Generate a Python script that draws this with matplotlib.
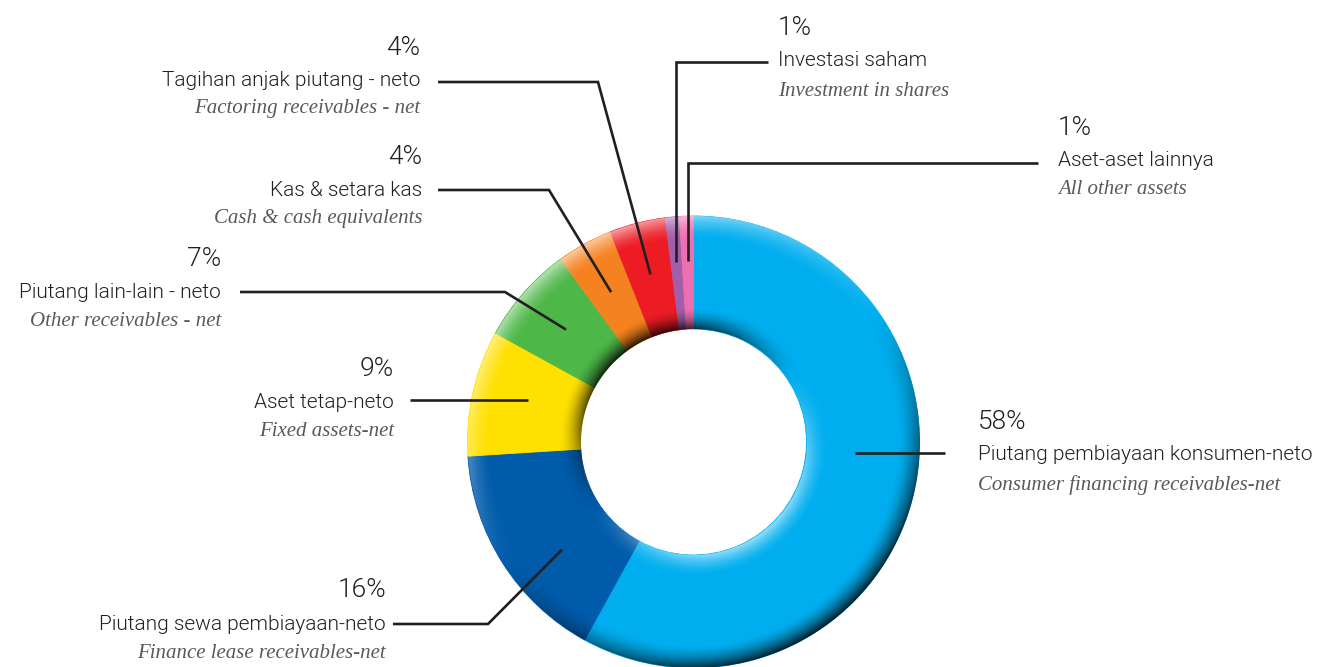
import numpy as np
import matplotlib
matplotlib.use("Agg")
import matplotlib.pyplot as plt

# Asset composition (percent of total assets)
values = [58, 16, 9, 7, 4, 4, 1, 1]
names_id = [
    "Piutang pembiayaan konsumen-neto",
    "Piutang sewa pembiayaan-neto",
    "Aset tetap-neto",
    "Piutang lain-lain - neto",
    "Kas & setara kas",
    "Tagihan anjak piutang - neto",
    "Investasi saham",
    "Aset-aset lainnya",
]
names_en = [
    "Consumer financing receivables-net",
    "Finance lease receivables-net",
    "Fixed assets-net",
    "Other receivables - net",
    "Cash & cash equivalents",
    "Factoring receivables - net",
    "Investment in shares",
    "All other assets",
]
colors = ["#00aeef", "#005baa", "#ffe000", "#4db848",
          "#f58220", "#ed1c24", "#a25ea8", "#ee6fb0"]

W, H = 1326, 667
fig = plt.figure(figsize=(W / 100, H / 100), dpi=100)
ax = fig.add_axes([0, 0, 1, 1])


def py(y):
    """Convert a top-down pixel row into the axes' y coordinate."""
    return H - y


cx, cy = 693.5, py(442)
R, ring = 226, 113
r_in = R - ring

wedges, _ = ax.pie(values, colors=colors, startangle=90, counterclock=False,
                   radius=R, center=(cx, cy), wedgeprops=dict(width=ring))
for w in wedges:
    w.set_edgecolor(w.get_facecolor())
    w.set_linewidth(0.6)

# Bevel shading of the ring (light coming from the upper left)
pad = 3
N = int(2 * (R + pad))
gx = np.linspace(cx - R - pad + 0.5, cx + R + pad - 0.5, N)
gy = np.linspace(cy - R - pad + 0.5, cy + R + pad - 0.5, N)
X, Y = np.meshgrid(gx, gy)
dx, dy = X - cx, Y - cy
r = np.hypot(dx, dy) + 1e-9
ux, uy = dx / r, dy / r
L = np.array([-0.55, 0.83])
L = L / np.linalg.norm(L)
d_out = ux * L[0] + uy * L[1]
wo, wi = 24.0, 22.0
t_out = np.clip((r - (R - wo)) / wo, 0, 1) ** 1.7
t_in = np.clip(((r_in + wi) - r) / wi, 0, 1) ** 1.7
shade = t_out * d_out - t_in * d_out
coverage = np.clip(R - r + 0.5, 0, 1) * np.clip(r - r_in + 0.5, 0, 1)
rgba = np.zeros((N, N, 4))
light = shade > 0
rgba[..., 0:3] = np.where(light, 1.0, 0.0)[..., None]
rgba[..., 3] = np.where(light, shade * 0.6, -shade * 0.85) * coverage
ax.imshow(rgba, extent=(cx - R - pad, cx + R + pad, cy - R - pad, cy + R + pad),
          origin="lower", interpolation="bilinear", zorder=3)

# Label layout: side, text x, rows (pct, name, english), leader spec
ink = "#231f20"
grey = "#58595b"
layout = [
    # side, text_x, y_pct, y_name, y_en, line_start_x, line_y, elbow_x, frac, anchor_r
    ("R", 978, 422, 455, 485, 945, None, None, 0.45, 162),
    ("L", 386, 590, 624, 654, 393, 624, 488, 0.38, 170),
    ("L", 394, 369, 402, 432, 410, None, None, 0.55, 171),
    ("L", 221, 259, 292, 322, 240, 292, 505, 0.5, 170),
    ("L", 422, 157, 190, 219, 438, 190, 549, 0.5, 171),
    ("L", 420, 48, 80, 108, 438, 82, 598, 0.5, 173),
    ("R", 778, 28, 60, 91, 768, 62, "anchor", 0.5, 181),
    ("R", 1058, 128, 161, 190, 1038, 163, "anchor", 0.5, 181),
]

for w, v, nid, nen, spec in zip(wedges, values, names_id, names_en, layout):
    side, tx, y_pct, y_name, y_en, lx, ly, ex, frac, ar = spec
    ang = np.deg2rad(w.theta2 - frac * (w.theta2 - w.theta1))
    axp, ayp = cx + ar * np.cos(ang), cy + ar * np.sin(ang)
    ha = "right" if side == "L" else "left"
    ax.text(tx, py(y_pct), f"{v}%", ha=ha, va="center", fontsize=19,
            family="Roboto", fontweight=300, color=ink, zorder=5)
    ax.text(tx, py(y_name), nid, ha=ha, va="center", fontsize=15,
            family="Roboto", fontweight=300, color=ink, zorder=5)
    ax.text(tx, py(y_en), nen, ha=ha, va="center", fontsize=15,
            family="Liberation Serif", style="italic", color=grey, zorder=5)
    if ly is None:
        xs, ys = [lx, axp], [ayp, ayp]
    elif ex == "anchor":
        xs, ys = [lx, axp, axp], [py(ly), py(ly), ayp]
    else:
        xs, ys = [lx, ex, axp], [py(ly), py(ly), ayp]
    ax.plot(xs, ys, color=ink, lw=1.9, solid_joinstyle="miter",
            solid_capstyle="butt", zorder=6)

ax.set_xlim(0, W)
ax.set_ylim(0, H)
ax.set_aspect("equal")
ax.axis("off")
fig.savefig("out.png", dpi=100, facecolor="white")
